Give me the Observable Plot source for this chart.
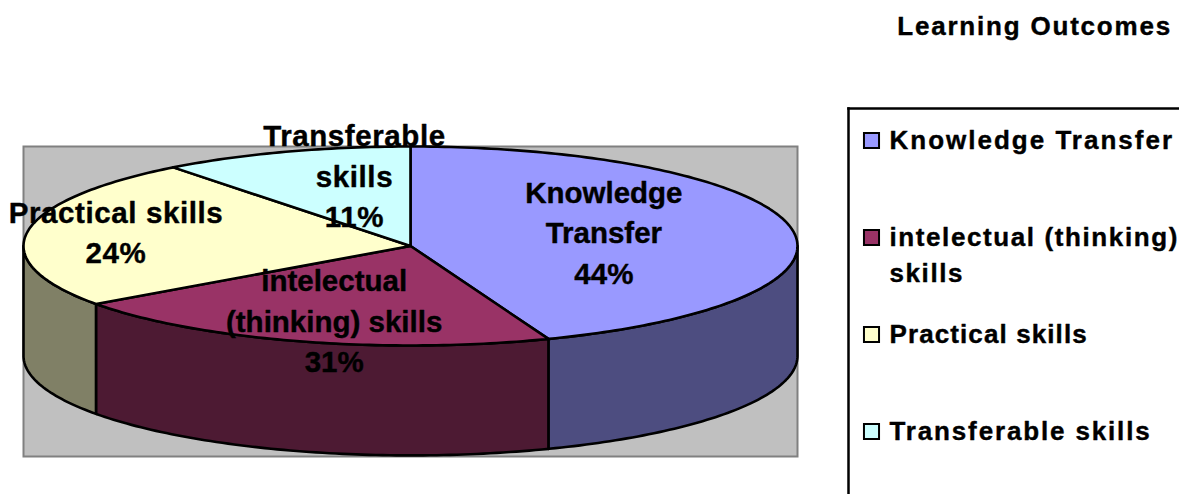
<!DOCTYPE html>
<html>
<head>
<meta charset="utf-8">
<script src="https://cdn.jsdelivr.net/npm/d3@7"></script>
<script src="https://cdn.jsdelivr.net/npm/@observablehq/plot@0.6"></script>
<style>
  html, body { margin: 0; padding: 0; background: #fff; overflow: hidden; }
  #page { position: relative; width: 1179px; height: 494px; font-family: "Liberation Sans", Arial, sans-serif; }
  #title { height: 52px; line-height: 52px; box-sizing: border-box; padding-right: 7px; text-align: right;
           font-size: 26px; font-weight: bold; letter-spacing: 1.8px; color: #000; -webkit-text-stroke: 0.4px #000; }
  #row { display: flex; }
  #row svg { display: block; flex: none; }
</style>
</head>
<body>
<div id="page">
  <div id="title">Learning Outcomes</div>
  <div id="row"></div>
</div>
<script>
// Data
const categories = ["Knowledge Transfer", "intelectual (thinking) skills", "Practical skills", "Transferable skills"];
const sliceShares = [44.2, 20.9, 24.4, 10.5];       // share of the circle each slice is drawn with
const percentLabels = ["44%", "31%", "24%", "11%"]; // percentages as printed on the chart
const pieNames = ["Knowledge\nTransfer", "intelectual\n(thinking) skills", "Practical skills", "Transferable\nskills"];
const legendNames = ["Knowledge Transfer", "intelectual (thinking)\nskills", "Practical skills", "Transferable skills"];
const topColors = ["#9999ff", "#993366", "#ffffcc", "#ccffff"];
const sideColors = ["#4d4d80", "#4d1a33", "#808066", "#668080"];

// Layout of the pie drawing
const depth = 1.105, yMax = 2.116;
const labelRadiusX = [0.508, 0.685, 0.769, 0.447];
const labelRadiusY = [0.64, 0.806, 0.85, 0.722];
const pieLabelSpacing = [0, 0, 0.6, 0.6];
const legendSpacing = [2.0, 1.6, 1.1, 1.85];

const rad = d => d * Math.PI / 180;
const rim = (t, drop = 0) => ({x: Math.sin(rad(t)), y: -Math.cos(rad(t)) + drop});
const cum = d3.cumsum(sliceShares);
const slices = categories.map((name, i) => ({
  name, i,
  start: (i ? cum[i - 1] : 0) * 3.6,
  end: cum[i] * 3.6
}));
const arc = (a, b, drop = 0) => {
  const ts = d3.range(a, b, 1);
  ts.push(b);
  return ts.map(t => rim(t, drop));
};
const edge = {stroke: "#000", strokeWidth: 2.6, strokeLinejoin: "round", curve: "linear-closed"};

const sideMarks = slices.flatMap(s => {
  const a = Math.max(s.start, 90), b = Math.min(s.end, 270);
  if (b <= a) return [];
  const face = [...arc(a, b), ...arc(a, b, depth).reverse()];
  return [Plot.line(face, {x: "x", y: "y", fill: sideColors[s.i], ...edge})];
});
const topMarks = slices.map(s =>
  Plot.line([{x: 0, y: 0}, ...arc(s.start, s.end)], {x: "x", y: "y", fill: topColors[s.i], ...edge})
);
const pieLabels = slices.map(s => {
  const mid = rad((s.start + s.end) / 2);
  return {
    x: Math.sin(mid) * labelRadiusX[s.i],
    y: -Math.cos(mid) * labelRadiusY[s.i],
    text: pieNames[s.i] + "\n" + percentLabels[s.i]
  };
});

const pie = Plot.plot({
  width: 830, height: 442,
  marginLeft: 23, marginRight: 33, marginTop: 94, marginBottom: 38,
  x: {domain: [-1, 1], axis: null},
  y: {domain: [-1, yMax], reverse: true, axis: null},
  style: {fontFamily: "Liberation Sans, Arial, sans-serif", background: "transparent", overflow: "visible"},
  marks: [
    Plot.frame({fill: "#c0c0c0", stroke: "#808080", strokeWidth: 2}),
    ...sideMarks,
    ...topMarks,
    Plot.text(pieLabels, {
      x: "x", y: "y", text: "text", dy: -4,
      fontSize: 29.5, fontWeight: "bold", fill: "#000", lineHeight: 1.373,
      stroke: "#000", strokeWidth: 0.4
    })
  ]
});

const legendRows = categories.map((name, i) => ({name, label: legendNames[i]}));
const legend = Plot.plot({
  width: 349, height: 442,
  marginLeft: 18, marginRight: 0, marginTop: 56, marginBottom: 0,
  y: {type: "point", domain: categories, range: [87, 379], padding: 0, axis: null},
  color: {domain: categories, range: topColors},
  style: {fontFamily: "Liberation Sans, Arial, sans-serif", background: "transparent"},
  marks: [
    Plot.frame({anchor: "left", stroke: "#000", strokeWidth: 2.5}),
    Plot.frame({anchor: "top", stroke: "#000", strokeWidth: 2.5}),
    Plot.dot(legendRows, {
      y: "name", fill: "name", symbol: "square", r: 8.5,
      frameAnchor: "left", dx: 23, stroke: "#000", strokeWidth: 2
    }),
    Plot.text(legendRows, {
      y: "name", text: "label", frameAnchor: "left", dx: 41, dy: -17,
      textAnchor: "start", lineAnchor: "top", lineHeight: 1.385,
      fontSize: 26, fontWeight: "bold", fill: "#000",
      stroke: "#000", strokeWidth: 0.4
    })
  ]
});

const setSpacing = (svg, spacing) => {
  const labels = svg.querySelectorAll('g[aria-label="text"] text');
  labels.forEach((el, i) => { el.style.letterSpacing = spacing[i] + "px"; });
};
setSpacing(pie, pieLabelSpacing);
setSpacing(legend, legendSpacing);

document.getElementById("row").append(pie, legend);
</script>
</body>
</html>
